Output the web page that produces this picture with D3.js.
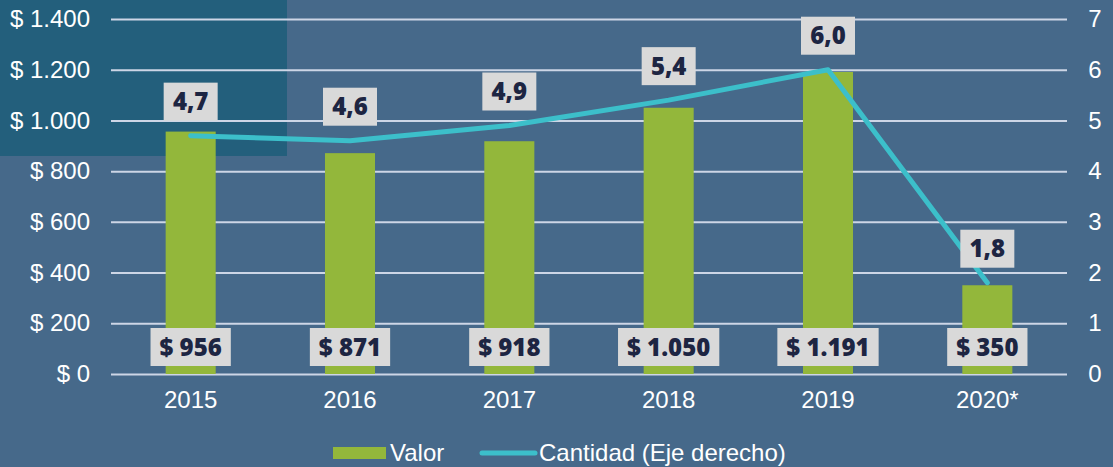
<!DOCTYPE html>
<html>
<head>
<meta charset="utf-8">
<script src="https://cdn.jsdelivr.net/npm/d3@7"></script>
<style>
  body { margin: 0; background: #46698a; }
  svg { display: block; }
</style>
</head>
<body>
<svg id="chart"></svg>
<script>
var years = ["2015", "2016", "2017", "2018", "2019", "2020*"]
var valor = [956, 871, 918, 1050, 1191, 350]
var cantidad = [4.7, 4.6, 4.9, 5.4, 6.0, 1.8]
var leftTicks = [0, 200, 400, 600, 800, 1000, 1200, 1400]
var rightTicks = [0, 1, 2, 3, 4, 5, 6, 7]

var dimensions = {
    width: 1113,
    height: 467,
    margin: { top: 19, bottom: 93, left: 111, right: 46 }
}

var svg = d3.select("#chart")
            .attr("width", dimensions.width)
            .attr("height", dimensions.height)

svg.append("rect")
   .attr("width", dimensions.width).attr("height", dimensions.height)
   .attr("fill", "#46698a")

// dark corner panel
svg.append("rect")
   .attr("x", 0).attr("y", 0)
   .attr("width", 287).attr("height", 156)
   .attr("fill", "#235f7c")

var xScale = d3.scaleBand()
               .domain(years)
               .range([dimensions.margin.left, dimensions.width - dimensions.margin.right])

var yScale = d3.scaleLinear()
               .domain([0, 1400])
               .range([dimensions.height - dimensions.margin.bottom, dimensions.margin.top])

var y2Scale = d3.scaleLinear()
                .domain([0, 7])
                .range([dimensions.height - dimensions.margin.bottom, dimensions.margin.top])

var fmt = d3.formatLocale({decimal: ",", thousands: ".", grouping: [3], currency: ["$ ", ""]})
var money = d => "$ " + fmt.format(",")(d)
var dec = fmt.format(".1f")

var axisFont = "Liberation Sans, Arial, sans-serif"

// gridlines + left axis
var yAxis = svg.append("g")
   .attr("transform", `translate(${dimensions.margin.left},0)`)
   .call(d3.axisLeft(yScale).tickValues(leftTicks).tickFormat(money)
           .tickSize(-(dimensions.width - dimensions.margin.left - dimensions.margin.right)).tickPadding(21))
yAxis.select(".domain").remove()
yAxis.selectAll("line").attr("stroke", "#cdd6e6").attr("stroke-width", 2)
yAxis.selectAll("text").attr("fill", "#ffffff")
     .style("font-family", axisFont).style("font-size", "24px")

var y2Axis = svg.append("g")
   .attr("transform", `translate(${dimensions.width - dimensions.margin.right},0)`)
   .call(d3.axisRight(y2Scale).tickValues(rightTicks).tickFormat(d3.format("d")).tickSize(0).tickPadding(28))
y2Axis.select(".domain").remove()
y2Axis.selectAll("text").attr("fill", "#ffffff").attr("text-anchor", "middle")
      .style("font-family", axisFont).style("font-size", "24px")

var xAxis = svg.append("g")
   .attr("transform", `translate(0,${dimensions.height - dimensions.margin.bottom})`)
   .call(d3.axisBottom(xScale).tickSize(0).tickPadding(17))
xAxis.select(".domain").remove()
xAxis.selectAll("text").attr("fill", "#ffffff")
     .style("font-family", axisFont).style("font-size", "24px")

var barW = xScale.bandwidth() * 0.314

svg.append("g").selectAll("rect")
   .data(valor).enter().append("rect")
   .attr("x", (d, i) => xScale(years[i]) + xScale.bandwidth() / 2 - barW / 2)
   .attr("y", d => yScale(d))
   .attr("width", barW)
   .attr("height", d => yScale(0) - yScale(d))
   .attr("fill", "#93b73b")

var cx = (d, i) => xScale(years[i]) + xScale.bandwidth() / 2

var line = d3.line()
             .x((d, i) => cx(d, i))
             .y(d => y2Scale(d))

svg.append("path")
   .datum(cantidad)
   .attr("d", line)
   .attr("fill", "none")
   .attr("stroke", "#3cbfca")
   .attr("stroke-width", 5)
   .attr("stroke-linejoin", "round")
   .attr("stroke-linecap", "round")

var labelFont = "'Open Sans', 'DejaVu Sans', sans-serif"

function addLabel(g, x, y, text, minW) {
    var r = g.append("rect").attr("fill", "#d9d9d9")
    var t = g.append("text")
     .attr("x", x).attr("y", y)
     .attr("dy", "0.36em")
     .attr("text-anchor", "middle")
     .attr("fill", "#1d2542")
     .style("font-family", labelFont)
     .style("font-weight", 800)
     .style("font-size", "24px")
     .text(text)
    var w = Math.max(minW, t.node().getComputedTextLength() + 18)
    r.attr("x", x - w / 2).attr("y", y - 19)
     .attr("width", w).attr("height", 38)
}

var labels = svg.append("g")
valor.forEach(function(d, i) {
    addLabel(labels, cx(d, i), yScale(0) - 27, money(d), 0)
})
cantidad.forEach(function(d, i) {
    addLabel(labels, cx(d, i), y2Scale(d) - 34, dec(d), 54)
})

// legend
var legend = svg.append("g").attr("transform", "translate(0,453)")
legend.append("rect").attr("x", 333).attr("y", -6).attr("width", 53).attr("height", 12).attr("fill", "#93b73b")
legend.append("text").attr("x", 390).attr("y", 0).attr("dy", "0.35em").text("Valor")
legend.append("line").attr("x1", 482).attr("x2", 535).attr("y1", 0).attr("y2", 0)
      .attr("stroke", "#3cbfca").attr("stroke-width", 5).attr("stroke-linecap", "round")
legend.append("text").attr("x", 539).attr("y", 0).attr("dy", "0.35em").text("Cantidad (Eje derecho)")
legend.selectAll("text").attr("fill", "#ffffff")
      .style("font-family", axisFont).style("font-size", "24px")
</script>
</body>
</html>
